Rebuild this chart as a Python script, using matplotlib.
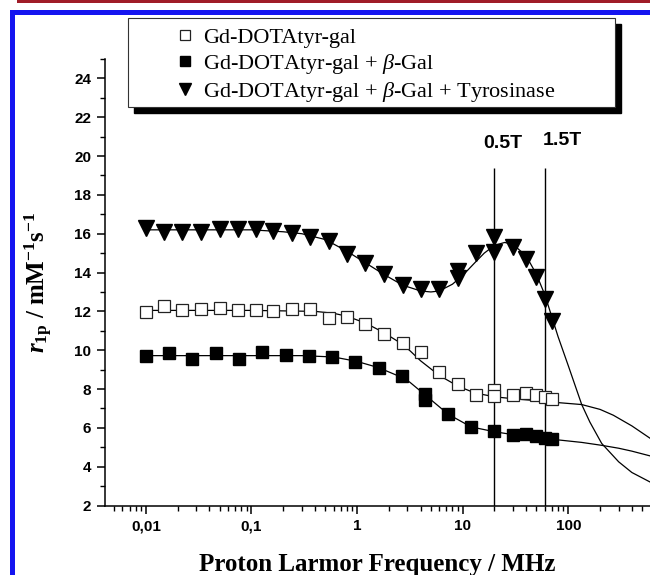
import matplotlib
matplotlib.use('Agg')
import matplotlib.pyplot as plt
from matplotlib.patches import Rectangle
from matplotlib.font_manager import FontProperties
from matplotlib.ticker import FixedLocator, LogLocator, NullFormatter, MultipleLocator

plt.rcParams['mathtext.fontset'] = 'custom'
plt.rcParams['mathtext.rm'] = 'Liberation Serif'
plt.rcParams['mathtext.it'] = 'Liberation Serif:italic'
plt.rcParams['mathtext.bf'] = 'Liberation Serif:bold'
plt.rcParams['mathtext.bfit'] = 'Liberation Serif:italic:bold'

# measured points (MHz, mM-1 s-1)
f_open = [0.01, 0.015, 0.022, 0.033, 0.05, 0.075, 0.11, 0.16, 0.24, 0.36, 0.54, 0.8,
          1.2, 1.8, 2.7, 4.0, 6.0, 9.0, 13.5, 20, 20, 30, 40, 50, 60, 70]
r_open = [11.96, 12.26, 12.05, 12.14, 12.19, 12.09, 12.05, 12.0, 12.14, 12.1, 11.66, 11.71,
          11.37, 10.85, 10.39, 9.9, 8.9, 8.25, 7.7, 7.95, 7.65, 7.7, 7.8, 7.7, 7.6, 7.5]

f_gal = [0.01, 0.0166, 0.0276, 0.046, 0.076, 0.126, 0.21, 0.35, 0.58, 0.96, 1.6, 2.65,
         4.4, 4.4, 7.3, 12, 20, 30, 40, 50, 60, 70]
r_gal = [9.70, 9.83, 9.57, 9.86, 9.53, 9.91, 9.74, 9.70, 9.65, 9.39, 9.08, 8.66,
         7.75, 7.45, 6.7, 6.05, 5.83, 5.65, 5.7, 5.6, 5.5, 5.4]

f_tyr = [0.01, 0.015, 0.022, 0.033, 0.05, 0.075, 0.11, 0.16, 0.24, 0.36, 0.54, 0.8,
         1.2, 1.8, 2.7, 4.0, 6.0, 9.0, 9.0, 13.5, 20, 20, 30, 40, 50, 60, 70]
r_tyr = [16.3, 16.1, 16.1, 16.1, 16.25, 16.25, 16.25, 16.15, 16.05, 15.85, 15.6, 14.95,
         14.5, 13.9, 13.35, 13.15, 13.15, 13.7, 14.1, 15.0, 15.85, 15.05, 15.3, 14.7, 13.75, 12.65, 11.5]

# fitted profiles
fit_f_open = [0.01, 0.1, 0.4, 0.6, 0.8, 1.2, 1.8, 2.7, 3.2, 4, 6, 9, 13, 20, 30, 50, 80,
              134, 200, 267, 400, 600]
fit_r_open = [12.05, 12.05, 12.0, 11.9, 11.75, 11.4, 10.9, 10.3, 9.95, 9.45, 8.7, 8.15, 7.8,
              7.6, 7.5, 7.4, 7.3, 7.2, 6.95, 6.65, 6.1, 5.45]

fit_f_gal = [0.01, 0.3, 0.6, 1.0, 1.6, 2.65, 3.16, 4.4, 7.3, 12, 20, 30, 50, 83, 134, 207,
             300, 400, 600]
fit_r_gal = [9.72, 9.72, 9.65, 9.42, 9.1, 8.6, 8.35, 7.7, 6.7, 6.05, 5.8, 5.65, 5.5, 5.37,
             5.25, 5.1, 4.95, 4.8, 4.55]

fit_f_tyr = [0.01, 0.1, 0.2, 0.3, 0.5, 0.8, 1.2, 1.8, 2.7, 4, 5, 6, 8, 10, 13, 16, 20, 25,
             30, 40, 50, 60, 70, 80, 100, 134, 160, 207, 300, 400, 600]
fit_r_tyr = [16.2, 16.2, 16.1, 16.0, 15.7, 15.1, 14.5, 13.9, 13.35, 13.05, 13.0, 13.05, 13.4,
             13.85, 14.5, 15.0, 15.4, 15.55, 15.45, 14.85, 13.9, 12.85, 11.7, 10.7, 9.2, 7.2,
             6.3, 5.2, 4.25, 3.7, 3.2]

labels = ['Gd-DOTAtyr-gal', r'Gd-DOTAtyr-gal + $\beta$-Gal',
          r'Gd-DOTAtyr-gal + $\beta$-Gal + Tyrosinase']

fields = [20, 60]
field_labels = ['0.5T', '1.5T']
field_label_x = [23.8, 88]
field_label_y = [20.65, 20.8]

xticks = [0.01, 0.1, 1, 10, 100]
xticklabels = ['0,01', '0,1', '1', '10', '100']
yticks = list(range(2, 25, 2))

fig = plt.figure(figsize=(6.5, 5.75), dpi=100)
ax = fig.add_axes([105/650, 1 - 505.5/575, 545/650, 446.5/575])

ax.plot(fit_f_open, fit_r_open, color='black', lw=0.9, zorder=2)
ax.plot(fit_f_gal, fit_r_gal, color='black', lw=0.9, zorder=2)
ax.plot(fit_f_tyr, fit_r_tyr, color='black', lw=0.9, zorder=2)

ax.vlines(fields, 2, 19.4, color='black', lw=1.0, zorder=1)

h1, = ax.plot(f_open, r_open, ls='none', marker='s', ms=9, mfc='white', mec='#222222',
              mew=0.9, zorder=3)
h2, = ax.plot(f_gal, r_gal, ls='none', marker='s', ms=9, color='black', zorder=3)
h3, = ax.plot(f_tyr, r_tyr, ls='none', marker='v', ms=11, color='black', zorder=3)

for fx, fy, t in zip(field_label_x, field_label_y, field_labels):
    ax.text(fx, fy, t, ha='center', va='center', fontsize=14, fontweight='bold',
            family='Liberation Sans')

ax.set_xscale('log')
ax.set_xlim(0.0041, 594)
ax.set_ylim(2, 25)
ax.set_xticks(xticks, labels=xticklabels, fontsize=11, fontweight='bold',
              family='Liberation Sans')
ax.xaxis.set_minor_locator(LogLocator(base=10, subs=range(2, 10), numticks=20))
ax.xaxis.set_minor_formatter(NullFormatter())
ax.set_yticks(yticks, labels=[str(v) for v in yticks], fontsize=11, fontweight='bold',
              family='Liberation Sans')
ax.yaxis.set_minor_locator(MultipleLocator(1))

ax.spines['top'].set_visible(False)
ax.spines['right'].set_visible(False)
for s in ['left', 'bottom']:
    ax.spines[s].set_linewidth(1.1)
ax.tick_params(which='major', direction='out', length=6, width=1.1, pad=4)
ax.tick_params(which='minor', direction='out', length=3.5, width=1.0)

ax.set_xlabel('Proton Larmor Frequency / MHz', fontsize=18, fontweight='bold',
              family='Liberation Serif', labelpad=14)
ax.set_ylabel(r'$\mathbfit{r}_{\mathbf{1p}}\mathbf{\ /\ mM}^{\mathbf{-1}}\mathbf{s}^{\mathbf{-1}}$',
              fontsize=18, labelpad=14)

# legend box with drop shadow
W, H = 650, 575
box = (128, 18, 615, 107)
fig.add_artist(Rectangle(((box[0] + 6) / W, 1 - (box[3] + 6) / H), (box[2] - box[0]) / W,
                         (box[3] - box[1]) / H, transform=fig.transFigure,
                         facecolor='black', edgecolor='black', zorder=1))
fig.add_artist(Rectangle((box[0] / W, 1 - box[3] / H), (box[2] - box[0]) / W,
                         (box[3] - box[1]) / H, transform=fig.transFigure,
                         facecolor='white', edgecolor='#333333', lw=0.8, zorder=2))
fig.legend([h1, h2, h3], labels, frameon=False, loc='upper left',
           bbox_to_anchor=(174 / W, 1 - 27.7 / H), bbox_transform=fig.transFigure,
           prop=FontProperties(family='Liberation Serif', size=16),
           handlelength=1.0, handletextpad=0.3, labelspacing=0.17, borderpad=0,
           borderaxespad=0, markerscale=0.75)

# page frame of the journal layout
fig.add_artist(Rectangle((17 / W, 1 - 2.5 / H), 1, 2.5 / H, transform=fig.transFigure,
                         facecolor='#a01c28', edgecolor='none', zorder=3))
fig.add_artist(Rectangle((10 / W, 1 - 15 / H), 1, 5 / H, transform=fig.transFigure,
                         facecolor='#1414f0', edgecolor='none', zorder=3))
fig.add_artist(Rectangle((10 / W, 0), 5 / W, 1 - 10 / H, transform=fig.transFigure,
                         facecolor='#1414f0', edgecolor='none', zorder=3))

fig.savefig('out.png', dpi=100)
